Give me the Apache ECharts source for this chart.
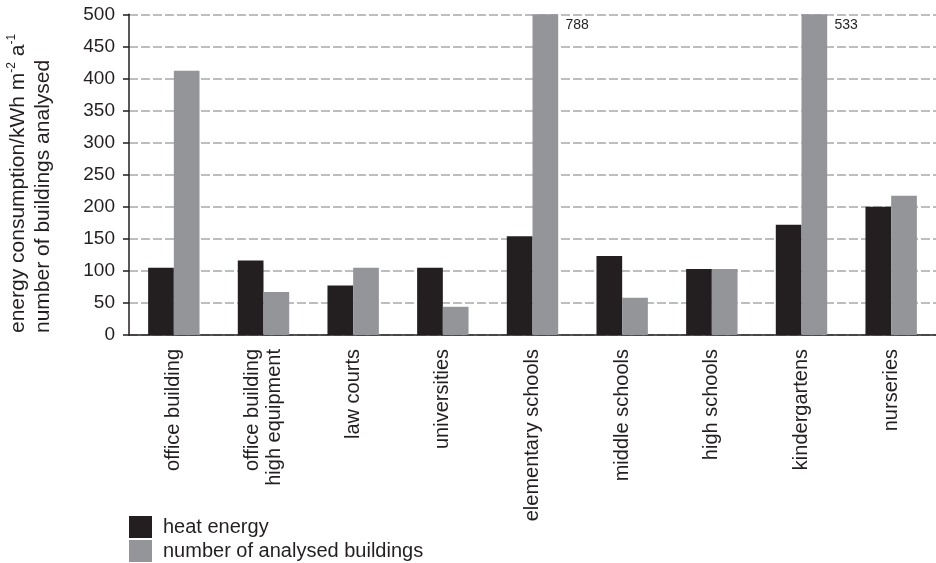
<!DOCTYPE html>
<html>
<head>
<meta charset="utf-8">
<script src="https://cdn.jsdelivr.net/npm/echarts@6/dist/echarts.min.js"></script>
<style>
html,body{margin:0;padding:0;background:#fff;}
#chart{width:936px;height:563px;}
</style>
</head>
<body>
<div id="chart"></div>
<script>
var categories = ['office building', 'office building\nhigh equipment', 'law courts', 'universities', 'elementary schools', 'middle schools', 'high schools', 'kindergartens', 'nurseries'];
var heatEnergy = [105, 116, 77, 105, 154, 123, 103, 172, 200];
var buildingCount = [412, 67, 105, 44, 788, 58, 103, 533, 217];
var seriesNames = ['heat energy', 'number of analysed buildings'];
var yMax = 500;
var yInterval = 50;

var FONT = 'Liberation Sans';
var TXT = '#231f20';

var countData = buildingCount.map(function (v) {
  if (v > yMax) {
    return { value: v, label: { show: true, position: [33, 4], formatter: '{c}', fontSize: 14, color: TXT, fontFamily: FONT } };
  }
  return v;
});

function legendFor(name, top) {
  return {
    orient: 'vertical',
    left: 129,
    top: top,
    itemWidth: 23,
    itemHeight: 22,
    itemGap: 2,
    icon: 'rect',
    padding: 0,
    textStyle: { fontFamily: FONT, fontSize: 20, color: TXT, padding: [0, 0, 0, 6] },
    data: [name]
  };
}

var chart = echarts.init(document.getElementById('chart'), null, { renderer: 'canvas' });
chart.setOption({
  animation: false,
  backgroundColor: '#fff',
  grid: { left: 129, top: 14.3, width: 813, bottom: 228, containLabel: false },
  legend: [legendFor(seriesNames[0], 516), legendFor(seriesNames[1], 540)],
  xAxis: {
    type: 'category',
    data: categories,
    axisLine: { lineStyle: { color: TXT, width: 1.5 } },
    axisTick: { length: 8, lineStyle: { color: TXT, width: 1.5 } },
    axisLabel: {
      rotate: 90,
      interval: 0,
      margin: 14,
      fontFamily: FONT,
      fontSize: 20,
      lineHeight: 22,
      color: TXT,
      padding: [21, 0, 0, 0]
    }
  },
  yAxis: {
    type: 'value',
    min: 0,
    max: yMax,
    interval: yInterval,
    axisLine: { show: true, lineStyle: { color: TXT, width: 1.5 } },
    axisTick: { show: true, length: 6, lineStyle: { color: TXT, width: 1.5 } },
    axisLabel: { fontFamily: FONT, fontSize: 19, color: TXT, margin: 14 },
    splitLine: { show: true, lineStyle: { color: '#a7a9ac', width: 1.5, type: [9, 3] } }
  },
  graphic: [{
    type: 'text',
    x: 31,
    y: 333,
    rotation: Math.PI / 2,
    style: {
      text: '{n|energy consumption/kWh m}{s|-2}{n| a}{s|-1}\n{n|number of buildings analysed}',
      textAlign: 'left',
      textVerticalAlign: 'middle',
      fill: TXT,
      rich: {
        n: { fontFamily: FONT, fontSize: 21, lineHeight: 25, fill: TXT, color: TXT },
        s: { fontFamily: FONT, fontSize: 12, lineHeight: 25, verticalAlign: 'top', fill: TXT, color: TXT }
      }
    }
  }],
  series: [{
    name: seriesNames[0],
    type: 'bar',
    data: heatEnergy,
    barWidth: 25.7,
    barGap: '0%',
    itemStyle: { color: '#231f20' }
  }, {
    name: seriesNames[1],
    type: 'bar',
    data: countData,
    barWidth: 25.7,
    barGap: '0%',
    itemStyle: { color: '#939598' }
  }]
});
</script>
</body>
</html>
